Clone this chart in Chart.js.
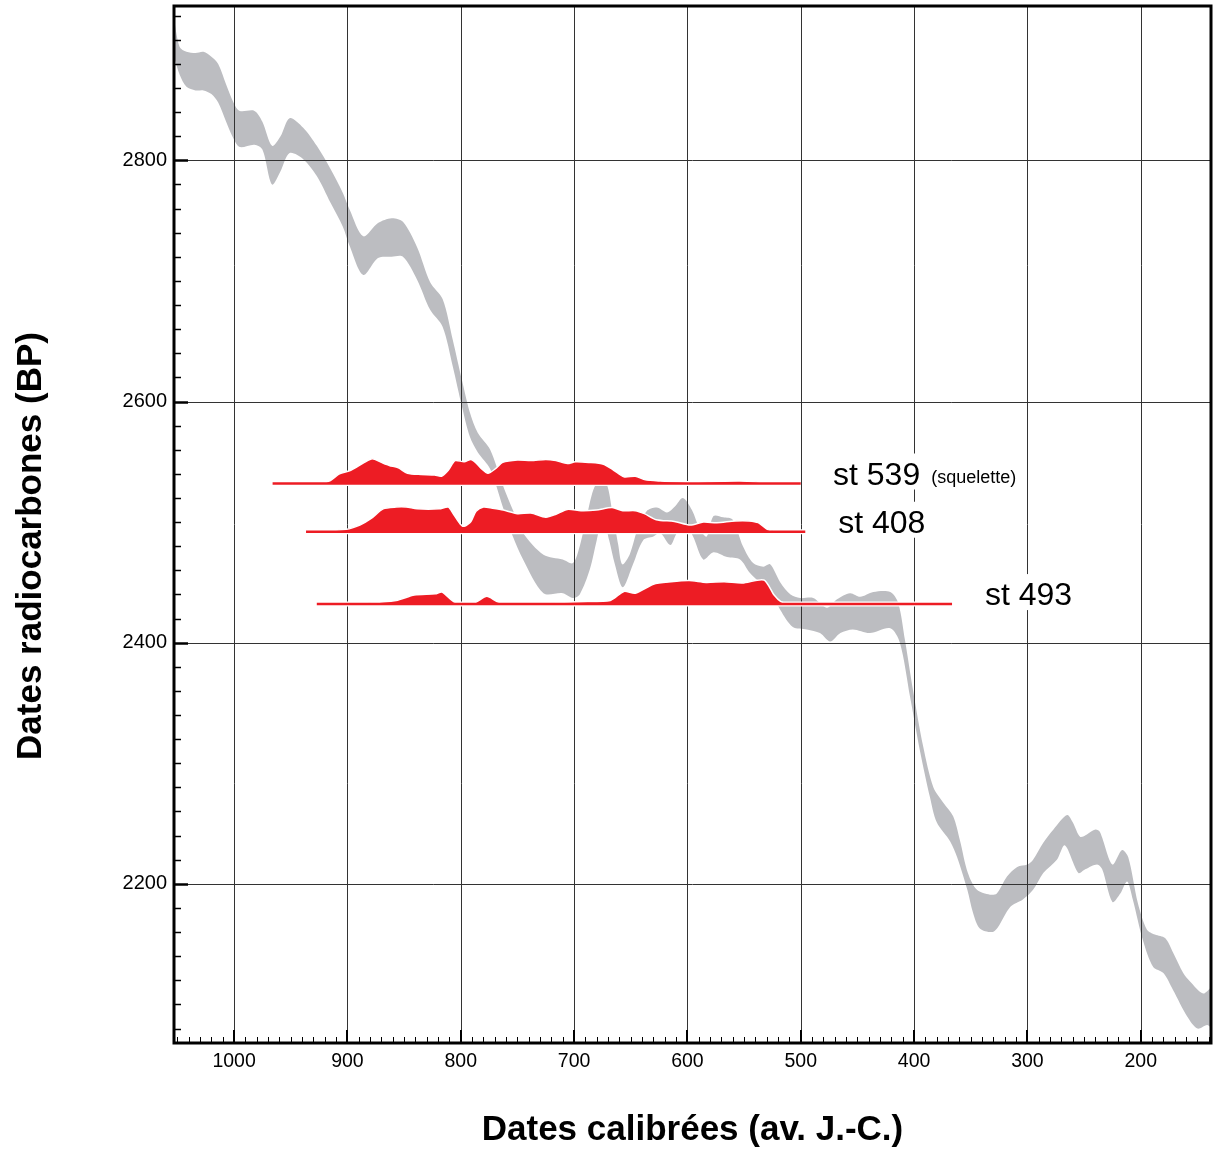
<!DOCTYPE html>
<html>
<head>
<meta charset="utf-8">
<title>Dates radiocarbones - calibration</title>
<script src="https://cdn.jsdelivr.net/npm/chart.js@4.4.1/dist/chart.umd.min.js"></script>
<style>
  body { margin: 0; background: #fff; }
  #wrap { width: 1213px; height: 1155px; }
</style>
</head>
<body>
<div id="wrap"><canvas id="myChart" width="1213" height="1155"></canvas></div>
<script>
// calibration curve band (upper / lower edge), years BC vs BP
var calYearsUp = [1053, 1048, 1042, 1034, 1027, 1020, 1014, 1007, 1000, 995, 982, 975, 966.5, 959, 951, 939, 927, 915, 904, 898, 886, 873, 861, 851, 838.5, 827, 816, 807, 799, 792, 785, 774, 763, 754, 745, 727, 710, 701, 695, 688.5, 682, 676, 671, 666.5, 661, 657.5, 651, 644, 636, 627, 618, 611, 604, 596, 589, 583, 577, 568.5, 560, 551, 542, 533, 527, 518, 509, 500.5, 489, 477, 468, 456.5, 447.5, 436, 421, 414, 408, 401, 392, 383, 374, 365.5, 359.5, 352.5, 344.5, 333, 327, 318, 309, 300, 295, 286, 277, 265, 260, 253.5, 247.5, 240, 236, 225, 216.5, 211, 202.5, 194.5, 187.5, 178.5, 171.5, 162.5, 156.5, 145, 138];
var calBPUp = [2917, 2894, 2890, 2889, 2890, 2886, 2880, 2863, 2847, 2841, 2841, 2832, 2812, 2820, 2835, 2827, 2812, 2793, 2773, 2759, 2737, 2748, 2752, 2749, 2728, 2699, 2685, 2651, 2618, 2591, 2574, 2560, 2531, 2510, 2491, 2473, 2469, 2466, 2480, 2506, 2529, 2533, 2531, 2510, 2481, 2465, 2473, 2494, 2509, 2512, 2508, 2513, 2520, 2510, 2494, 2488, 2505, 2504, 2502, 2480, 2466, 2463, 2465, 2450, 2440, 2437, 2437, 2429, 2436, 2441, 2438, 2442, 2442, 2433, 2402, 2361, 2314, 2280, 2267, 2256, 2236, 2209, 2195, 2191, 2192, 2206, 2214, 2216, 2220, 2234, 2245, 2257, 2251, 2239, 2241, 2245, 2243, 2216, 2228, 2222, 2184, 2162, 2158, 2155, 2143, 2126, 2119, 2109, 2114];
var calYearsLo = [1053, 1048, 1042, 1034, 1027, 1020, 1014, 1007, 1000, 995, 982, 975, 966.5, 959, 951, 939, 927, 915, 904, 898, 886, 873, 861, 851, 838.5, 827, 816, 807, 799, 792, 785, 774, 763, 754, 745, 727, 710, 701, 695, 686, 680, 674.5, 669, 664, 657, 648, 639, 630, 624, 615, 609, 600, 595, 586, 577, 565, 553.5, 545, 536, 527, 518, 507, 494.5, 483, 474, 465, 454, 439, 421, 412.5, 403.5, 394.5, 386, 380, 368, 362, 353, 348, 342, 331, 326, 315, 304, 295, 286, 274, 267, 255, 249, 238.5, 234, 225, 218, 212, 207, 198, 189, 180, 171.5, 159, 150, 141.5, 138];
var calBPLo = [2886, 2871, 2861, 2858, 2858, 2855, 2848, 2832, 2817, 2811, 2813, 2809, 2780, 2791, 2806, 2801, 2787, 2765, 2745, 2729, 2705, 2719, 2720, 2720, 2701, 2676, 2662, 2629, 2596, 2571, 2558, 2544, 2513, 2488, 2469, 2441, 2441, 2437, 2440, 2461, 2485, 2504, 2485, 2465, 2446, 2465, 2485, 2488, 2491, 2481, 2491, 2495, 2488, 2469, 2475, 2471, 2469, 2458, 2450, 2444, 2427, 2413, 2411, 2408, 2401, 2408, 2411, 2408, 2412, 2400, 2355, 2309, 2272, 2251, 2235, 2222, 2195, 2176, 2163, 2160, 2164, 2181, 2187, 2195, 2209, 2220, 2232, 2209, 2212, 2216, 2212, 2185, 2192, 2202, 2187, 2153, 2131, 2126, 2112, 2090, 2080, 2083, 2081];

// samples : measured BP and calibrated distribution (height in BP units)
var sampleNames = ['st 539', 'st 408', 'st 493'];
var sampleNotes = ['(squelette)', '', ''];
var sampleBP = [2532, 2492, 2432];

var st539Years = [966, 924, 915, 907, 897, 885, 878, 870, 863, 855, 847, 835, 823, 817, 811, 805, 797, 791, 787, 782, 776, 769, 763, 750, 738, 725, 716, 706, 699, 687, 674, 665, 656, 646, 637, 624, 599, 580, 554, 536, 527, 500];
var st539Prob = [0, 0, 2.5, 8, 11, 17.5, 20.5, 17.5, 15, 13, 8.5, 7.5, 7, 6, 11, 19, 18, 20, 17.5, 12.5, 8.5, 12.5, 17.5, 19.5, 19, 20, 19, 16.5, 18, 17.5, 16, 11, 5.5, 6, 3, 2, 1, 1.5, 2, 1, 0, 0];
var st408Years = [936.5, 901, 889, 879, 868.5, 857, 848, 838.5, 819, 811, 807, 800.5, 797, 791, 786.5, 780, 772, 762.5, 750, 738, 725, 716, 706, 694, 680.5, 666.5, 657, 646, 638, 627.5, 611.5, 597.5, 586, 574, 558, 545.5, 537.5, 529.5, 523.5, 496];
var st408Prob = [0, 2, 5.5, 11, 19, 20.5, 20.5, 19, 19, 20.5, 15.5, 6.5, 4.5, 8.5, 17, 20.5, 19.5, 18, 15, 15.5, 12, 14.5, 18.5, 17.5, 18, 20, 17.5, 17.5, 15, 10, 8.5, 5.5, 8, 7.5, 9, 9, 7.5, 2, 0.5, 0];
var st493Years = [927, 882.5, 857, 841, 822.5, 816.5, 805, 788, 777, 766, 724.5, 694, 668, 656, 646, 630, 614.5, 598.5, 583.5, 567.5, 551.5, 532.5, 523.5, 517.5, 510.5, 366.5];
var st493Prob = [0, 1, 3, 7.5, 8.5, 10, 1.5, 1, 6.5, 1.5, 1, 2, 3, 10.5, 9, 16.5, 18.5, 19.5, 18, 18.5, 17.5, 20, 7.5, 2, 0, 0];

var sampleYears = [st539Years, st408Years, st493Years];
var sampleProb = [st539Prob, st408Prob, st493Prob];

var FONT = '"Liberation Sans", Arial, Helvetica, sans-serif';
var RED = '#ed1c24';
var GRAY = '#bcbdc1';

function pts(xs, ys, base) {
	return xs.map(function (v, i) { return {x: v, y: (base || 0) + ys[i]}; });
}

var datasets = [
	{label: 'cal-hi', data: pts(calYearsUp, calBPUp), borderColor: 'rgba(0,0,0,0)', borderWidth: 0,
	 pointRadius: 0, fill: false, tension: 0.3, order: 20},
	{label: 'cal-lo', data: pts(calYearsLo, calBPLo), borderColor: 'rgba(0,0,0,0)', borderWidth: 0,
	 pointRadius: 0, fill: '-1', backgroundColor: GRAY, tension: 0.3, order: 19}
];

sampleNames.forEach(function (name, i) {
	var ys = sampleYears[i];
	var base = sampleBP[i];
	var line = [{x: ys[0], y: base}, {x: ys[ys.length - 1], y: base}];
	// white halo under the baseline
	datasets.push({label: name + ' halo', data: line, borderColor: '#fff', borderWidth: 5,
		pointRadius: 0, fill: false, order: 9});
	// distribution
	datasets.push({label: name, data: pts(ys, sampleProb[i], base), borderColor: '#fff', borderWidth: 1.5,
		backgroundColor: RED, fill: {value: base}, pointRadius: 0, tension: 0.25, order: 8});
	// red baseline
	datasets.push({label: name + ' base', data: line, borderColor: RED, borderWidth: 2.5,
		pointRadius: 0, fill: false, order: 7});
});

var frame = {
	id: 'frame',
	// grid drawn over the grey band, below the red distributions
	afterDatasetDraw: function (chart, args) {
		if (chart.data.datasets[args.index].label !== 'cal-lo') return;
		var ctx = chart.ctx, a = chart.chartArea, x = chart.scales.x, y = chart.scales.y;
		ctx.save();
		ctx.strokeStyle = '#333';
		ctx.lineWidth = 1;
		ctx.beginPath();
		x.ticks.forEach(function (t) {
			if (t.value % 100) return;
			var px = Math.round(x.getPixelForValue(t.value)) + 0.5;
			ctx.moveTo(px, a.top); ctx.lineTo(px, a.bottom);
		});
		y.ticks.forEach(function (t) {
			if (t.value % 200) return;
			var py = Math.round(y.getPixelForValue(t.value)) + 0.5;
			ctx.moveTo(a.left, py); ctx.lineTo(a.right, py);
		});
		ctx.stroke();
		ctx.restore();
	},
	afterDatasetsDraw: function (chart, args, opts) {
		var ctx = chart.ctx, x = chart.scales.x, y = chart.scales.y;
		ctx.save();
		sampleNames.forEach(function (name, i) {
			var px = x.getPixelForValue(opts.labelAt[i]);
			var py = y.getPixelForValue(sampleBP[i]) + 1;
			ctx.font = '32px ' + FONT;
			var w1 = ctx.measureText(name).width;
			ctx.font = '18px ' + FONT;
			var w2 = sampleNotes[i] ? ctx.measureText(sampleNotes[i]).width + 11 : 0;
			ctx.fillStyle = '#fff';
			ctx.fillRect(px - 3, py - 31, w1 + w2 + 6, 36);
			ctx.fillStyle = '#000';
			ctx.textBaseline = 'alphabetic';
			ctx.textAlign = 'left';
			ctx.font = '32px ' + FONT;
			ctx.fillText(name, px, py);
			if (sampleNotes[i]) {
				ctx.font = '18px ' + FONT;
				ctx.fillText(sampleNotes[i], px + w1 + 11, py - 2);
			}
		});
		ctx.restore();
	},
	afterDraw: function (chart) {
		var ctx = chart.ctx, a = chart.chartArea, x = chart.scales.x, y = chart.scales.y;
		ctx.save();
		ctx.strokeStyle = '#000';
		// inward ticks
		x.ticks.forEach(function (t) {
			var major = t.value % 100 === 0;
			var px = Math.round(x.getPixelForValue(t.value)) + (major ? 0 : 0.5);
			ctx.lineWidth = major ? 2 : 1;
			ctx.beginPath();
			ctx.moveTo(px, a.bottom);
			ctx.lineTo(px, a.bottom - (major ? 13 : 6));
			ctx.stroke();
		});
		y.ticks.forEach(function (t) {
			var major = t.value % 200 === 0;
			var py = Math.round(y.getPixelForValue(t.value)) + 0.5;
			ctx.lineWidth = major ? 2.5 : 1.5;
			ctx.beginPath();
			ctx.moveTo(a.left, py);
			ctx.lineTo(a.left + (major ? 14 : 7), py);
			ctx.stroke();
		});
		ctx.lineWidth = 3;
		ctx.strokeRect(a.left, a.top, a.right - a.left, a.bottom - a.top);
		// y axis title
		ctx.translate(41, 546);
		ctx.rotate(-Math.PI / 2);
		ctx.fillStyle = '#000';
		ctx.font = 'bold 35px ' + FONT;
		ctx.textAlign = 'center';
		ctx.textBaseline = 'alphabetic';
		ctx.fillText('Dates radiocarbones (BP)', 0, 0);
		ctx.restore();
	}
};

var ctx = document.getElementById('myChart').getContext('2d');
window.chart = new Chart(ctx, {
	type: 'line',
	data: {datasets: datasets},
	plugins: [frame],
	options: {
		responsive: false,
		animation: false,
		devicePixelRatio: 1,
		layout: {padding: {top: 6, right: 2, bottom: 0, left: 0}},
		plugins: {
			legend: {display: false},
			tooltip: {enabled: false},
			frame: {labelAt: [471.5, 467, 337.5]}
		},
		scales: {
			x: {
				type: 'linear',
				reverse: true,
				min: 138,
				max: 1053,
				afterBuildTicks: function (s) {
					s.ticks = [];
					for (var v = 140; v <= 1050; v += 10) s.ticks.push({value: v});
				},
				afterFit: function (s) {
					s.height = 112;
					s.paddingLeft = 0;
					s.paddingRight = 0;
				},
				grid: {display: false, tickLength: 0},
				border: {display: false},
				ticks: {
					autoSkip: false, maxRotation: 0, minRotation: 0, padding: 7, color: '#000',
					font: {family: FONT, size: 19.5},
					callback: function (v) { return v % 100 === 0 ? String(v) : ''; }
				},
				title: {
					display: true, text: 'Dates calibrées (av. J.-C.)', color: '#000',
					font: {family: FONT, size: 35, weight: 'bold'},
					padding: {top: 0, bottom: 4}
				}
			},
			y: {
				type: 'linear',
				min: 2068,
				max: 2928,
				afterBuildTicks: function (s) {
					s.ticks = [];
					for (var v = 2080; v <= 2920; v += 20) s.ticks.push({value: v});
				},
				afterFit: function (s) {
					s.width = 174;
					s.paddingTop = 0;
					s.paddingBottom = 0;
				},
				grid: {display: false, tickLength: 0},
				border: {display: false},
				ticks: {
					autoSkip: false, padding: 7, color: '#000',
					font: {family: FONT, size: 20},
					callback: function (v) { return v % 200 === 0 ? String(v) : ''; }
				}
			}
		}
	}
});
</script>
</body>
</html>
